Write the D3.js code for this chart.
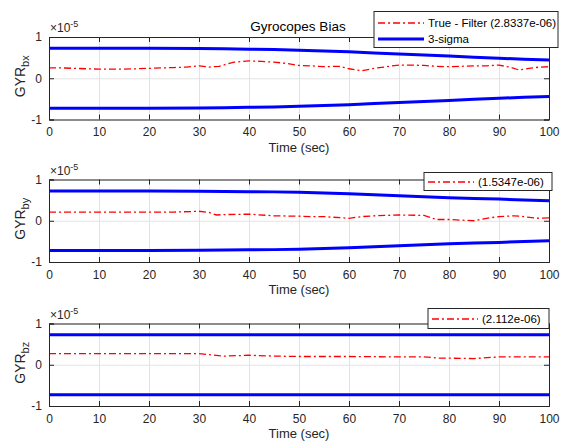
<!DOCTYPE html>
<html>
<head>
<meta charset="utf-8">
<script src="https://cdn.jsdelivr.net/npm/d3@7"></script>
<style>
  html, body { margin: 0; padding: 0; background: #fff; }
  svg { display: block; font-family: "Liberation Sans", Arial, sans-serif; }
</style>
</head>
<body>
<svg id="chart" width="561" height="446"></svg>
<script>
// ---- data (values in units of 1e-5) ----
const xTicks = [0, 10, 20, 30, 40, 50, 60, 70, 80, 90, 100];
const yTicks = [-1, 0, 1];
const yTickLabels = ["-1", "0", "1"];

const titleText = "Gyrocopes Bias";
const xLabel = "Time (sec)";
const yLabelMain = ["GYR", "GYR", "GYR"];
const yLabelSub = ["bx", "by", "bz"];
const legendErr = ["True - Filter (2.8337e-06)", "(1.5347e-06)", "(2.112e-06)"];
const legendSigma = "3-sigma";

const timeSigma = [0, 10, 20, 30, 35, 40, 45, 50, 55, 60, 65, 70, 75, 80, 85, 90, 95, 100];
const sigmaBx = [0.725, 0.725, 0.725, 0.72, 0.715, 0.705, 0.695, 0.68, 0.66, 0.64, 0.615, 0.59, 0.565, 0.54, 0.51, 0.485, 0.46, 0.44];
const sigmaBy = [0.72, 0.72, 0.72, 0.715, 0.71, 0.705, 0.70, 0.69, 0.675, 0.655, 0.63, 0.605, 0.58, 0.56, 0.54, 0.525, 0.505, 0.485];
const sigmaBz = [0.73, 0.73, 0.73, 0.73, 0.73, 0.725, 0.725, 0.725, 0.725, 0.725, 0.725, 0.725, 0.725, 0.725, 0.725, 0.725, 0.725, 0.725];

const timeErrBx = [0, 2.5, 5, 7.5, 10, 12.5, 15, 17.5, 20, 22.5, 25, 27.5, 30, 32, 34, 37, 40, 42.5, 45, 47.5, 50, 52.5, 55, 58, 60, 62.5, 65, 67.5, 70, 72.5, 75, 77.5, 80, 82.5, 85, 87.5, 90, 92.5, 94, 96, 98, 100];
const errBx = [0.25, 0.25, 0.24, 0.23, 0.22, 0.22, 0.22, 0.23, 0.24, 0.25, 0.26, 0.27, 0.30, 0.27, 0.29, 0.39, 0.42, 0.41, 0.39, 0.36, 0.31, 0.30, 0.28, 0.29, 0.23, 0.18, 0.24, 0.28, 0.32, 0.32, 0.31, 0.29, 0.28, 0.29, 0.30, 0.30, 0.32, 0.26, 0.20, 0.24, 0.27, 0.28];

const timeErrBy = [0, 5, 10, 15, 20, 25, 30, 32, 33.5, 35, 40, 45, 50, 52.5, 55, 60, 62.5, 65, 70, 75, 77.5, 80, 85, 87.5, 90, 93, 95, 97.5, 100];
const errBy = [0.21, 0.21, 0.21, 0.21, 0.21, 0.21, 0.23, 0.20, 0.14, 0.15, 0.16, 0.12, 0.11, 0.10, 0.10, 0.06, 0.10, 0.12, 0.14, 0.13, 0.03, 0.03, 0.00, 0.06, 0.10, 0.12, 0.10, 0.06, 0.07];

const timeErrBz = [0, 10, 20, 30, 32.5, 35, 40, 45, 50, 60, 70, 75, 78, 80, 85, 90, 95, 100];
const errBz = [0.27, 0.27, 0.27, 0.27, 0.24, 0.21, 0.23, 0.21, 0.20, 0.20, 0.19, 0.19, 0.16, 0.16, 0.15, 0.19, 0.19, 0.19];

const panels = [
  { time: timeErrBx, err: errBx, sigma: sigmaBx },
  { time: timeErrBy, err: errBy, sigma: sigmaBy },
  { time: timeErrBz, err: errBz, sigma: sigmaBz }
];

// ---- layout ----
const svg = d3.select("#chart");
const left = 49, right = 549;
const tops = [37, 179.5, 323.5];
const plotH = 82.5;
const axisColor = "#262626";
const gridColor = "#e3e3e3";
const blue = "#0000ff";
const red = "#ff0000";
const dash = "7,3,2,3";

const x = d3.scaleLinear().domain([0, 100]).range([left, right]);

panels.forEach((p, i) => {
  const top = tops[i], bottom = top + plotH;
  const y = d3.scaleLinear().domain([-1, 1]).range([bottom, top]);
  const g = svg.append("g");

  // grid
  g.append("g").attr("transform", `translate(0,${bottom})`)
    .call(d3.axisBottom(x).tickValues(xTicks).tickSize(-plotH).tickFormat(""))
    .call(s => s.select(".domain").remove())
    .call(s => s.selectAll("line").attr("stroke", gridColor).attr("stroke-width", 1));
  g.append("g").attr("transform", `translate(${left},0)`)
    .call(d3.axisLeft(y).tickValues(yTicks).tickSize(-(right - left)).tickFormat(""))
    .call(s => s.select(".domain").remove())
    .call(s => s.selectAll("line").attr("stroke", gridColor).attr("stroke-width", 1));

  // series
  const sigUp = d3.line().x((d, k) => x(timeSigma[k])).y(d => y(d));
  const sigDn = d3.line().x((d, k) => x(timeSigma[k])).y(d => y(-d));
  g.append("path").datum(p.sigma).attr("d", sigUp).attr("fill", "none")
    .attr("stroke", blue).attr("stroke-width", 3);
  g.append("path").datum(p.sigma).attr("d", sigDn).attr("fill", "none")
    .attr("stroke", blue).attr("stroke-width", 3);
  const errLine = d3.line().x((d, k) => x(p.time[k])).y(d => y(d));
  g.append("path").datum(p.err).attr("d", errLine).attr("fill", "none")
    .attr("stroke", red).attr("stroke-width", 1.3).attr("stroke-dasharray", dash);

  // axes (ticks inward on all sides)
  const ax = g.append("g").attr("transform", `translate(0,${bottom})`)
    .call(d3.axisBottom(x).tickValues(xTicks).tickSize(-5).tickPadding(8));
  const ay = g.append("g").attr("transform", `translate(${left},0)`)
    .call(d3.axisLeft(y).tickValues(yTicks).tickSize(-5).tickPadding(7)
      .tickFormat((d, k) => yTickLabels[k]));
  const axT = g.append("g").attr("transform", `translate(0,${top})`)
    .call(d3.axisTop(x).tickValues(xTicks).tickSize(-5).tickFormat(""));
  const ayR = g.append("g").attr("transform", `translate(${right},0)`)
    .call(d3.axisRight(y).tickValues(yTicks).tickSize(-5).tickFormat(""));
  [ax, ay, axT, ayR].forEach(a => {
    a.select(".domain").attr("stroke", axisColor).attr("stroke-width", 1);
    a.selectAll(".tick line").attr("stroke", axisColor);
    a.selectAll("text").attr("fill", axisColor).style("font-size", "12px")
      .style("font-family", '"Liberation Sans", Arial, sans-serif');
  });

  // exponent
  const ex = g.append("text").attr("x", left + 1).attr("y", top - 5)
    .attr("fill", axisColor).style("font-size", "12px");
  ex.append("tspan").text("\u00d710");
  ex.append("tspan").attr("dy", -5).style("font-size", "9px").text("-5");

  // x label
  g.append("text").attr("x", (left + right) / 2).attr("y", bottom + 32)
    .attr("text-anchor", "middle").attr("fill", axisColor).style("font-size", "13px")
    .text(xLabel);

  // y label
  const yl = g.append("text")
    .attr("transform", `translate(25,${(top + bottom) / 2 - 2}) rotate(-90)`)
    .attr("text-anchor", "middle").attr("fill", axisColor).style("font-size", "14px");
  yl.append("tspan").text(yLabelMain[i]);
  yl.append("tspan").attr("dy", 4).style("font-size", "11px").text(yLabelSub[i]);
});

// title
svg.append("text").attr("x", 298).attr("y", 31).attr("text-anchor", "middle")
  .attr("fill", "#000").style("font-size", "13.5px").text(titleText);

// legends
const legendBoxes = [
  { x: 374, y: 11.5, w: 184, h: 36, rows: [23, 39] },
  { x: 424, y: 172.5, w: 128, h: 18, rows: [182] },
  { x: 428, y: 308.5, w: 121, h: 20, rows: [319] }
];
legendBoxes.forEach((b, i) => {
  const lg = svg.append("g");
  lg.append("rect").attr("x", b.x).attr("y", b.y).attr("width", b.w).attr("height", b.h)
    .attr("fill", "#fff").attr("stroke", axisColor).attr("stroke-width", 1);
  const lx0 = b.x + 4, lx1 = b.x + 50;
  lg.append("line").attr("x1", lx0).attr("x2", lx1).attr("y1", b.rows[0]).attr("y2", b.rows[0])
    .attr("stroke", red).attr("stroke-width", 1.3).attr("stroke-dasharray", dash);
  lg.append("text").attr("x", lx1 + 4).attr("y", b.rows[0] + 4)
    .attr("fill", "#000").style("font-size", "11.5px").text(legendErr[i]);
  if (b.rows.length > 1) {
    lg.append("line").attr("x1", lx0).attr("x2", lx1).attr("y1", b.rows[1]).attr("y2", b.rows[1])
      .attr("stroke", blue).attr("stroke-width", 3);
    lg.append("text").attr("x", lx1 + 4).attr("y", b.rows[1] + 4)
      .attr("fill", "#000").style("font-size", "11.5px").text(legendSigma);
  }
});
</script>
</body>
</html>
